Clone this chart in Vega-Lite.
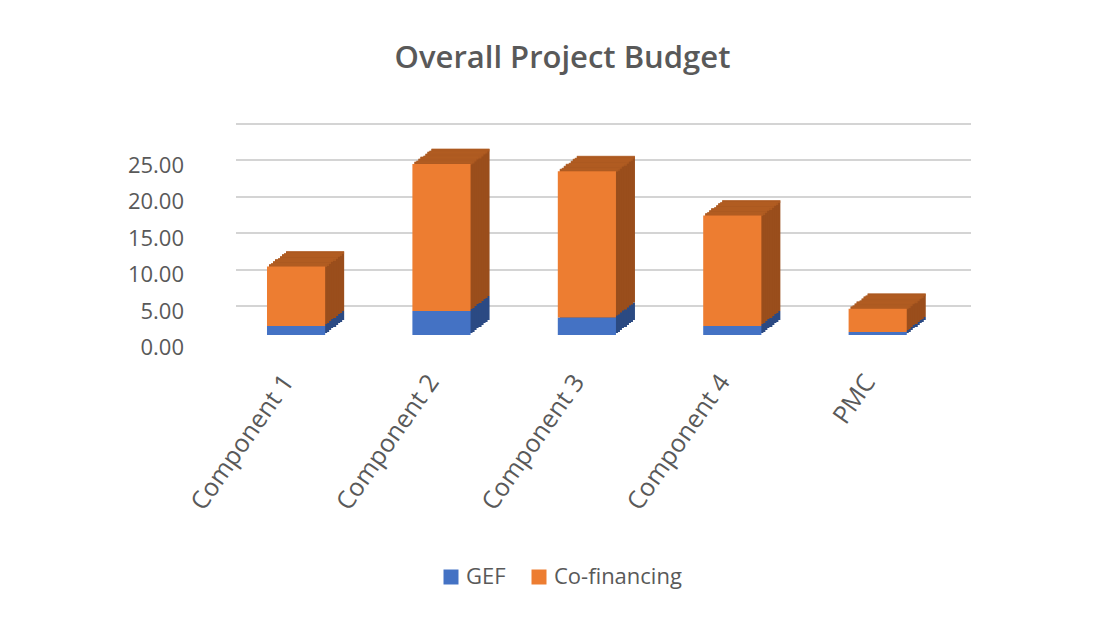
{
  "$schema": "https://vega.github.io/schema/vega-lite/v6.json",
  "width": 735,
  "height": 182,
  "autosize": {"type": "none"},
  "padding": {"left": 265, "top": 153, "right": 115, "bottom": 286},
  "background": "white",
  "title": {
    "text": "Overall Project Budget",
    "font": "Open Sans",
    "fontSize": 31,
    "fontWeight": 600,
    "color": "#595959",
    "anchor": "middle",
    "offset": 73,
    "dx": -70
  },
  "config": {"view": {"stroke": null}},
  "data": {
    "values": [
      {"component": "Component 1", "series": "GEF", "value": 1.25},
      {"component": "Component 1", "series": "Co-financing", "value": 8.15},
      {"component": "Component 2", "series": "GEF", "value": 3.3},
      {"component": "Component 2", "series": "Co-financing", "value": 20.2},
      {"component": "Component 3", "series": "GEF", "value": 2.4},
      {"component": "Component 3", "series": "Co-financing", "value": 20.1},
      {"component": "Component 4", "series": "GEF", "value": 1.25},
      {"component": "Component 4", "series": "Co-financing", "value": 15.15},
      {"component": "PMC", "series": "GEF", "value": 0.4},
      {"component": "PMC", "series": "Co-financing", "value": 3.2}
    ]
  },
  "transform": [
    {"stack": "value", "groupby": ["component"], "sort": [{"field": "series", "order": "descending"}], "as": ["v0", "v1"]}
  ],
  "encoding": {
    "x": {
      "field": "component",
      "type": "nominal",
      "sort": null,
      "scale": {"paddingInner": 0.6, "paddingOuter": 0.3275, "align": 0.021},
      "axis": {
        "title": null,
        "labelAngle": -55,
        "labelFont": "Open Sans",
        "labelFontSize": 25,
        "labelColor": "#595959",
        "domain": false,
        "ticks": false,
        "labelPadding": 42,
        "labelOffset": -8
      }
    },
    "y": {
      "field": "v1",
      "type": "quantitative",
      "scale": {"domain": [0, 25], "nice": false},
      "axis": {
        "title": null,
        "values": [0, 5, 10, 15, 20, 25],
        "format": ".2f",
        "labelFont": "Open Sans",
        "labelFontSize": 22,
        "labelColor": "#595959",
        "labelPadding": 52,
        "labelOffset": 42,
        "translate": -29,
        "domain": false,
        "ticks": false,
        "gridColor": "#d4d4d4",
        "gridWidth": 2
      }
    }
  },
  "layer": [
    {"mark": {"type": "bar", "xOffset": 19, "yOffset": -15, "y2Offset": -15}, "encoding": {"y2": {"field": "v0"}, "color": {"field": "series", "type": "nominal", "scale": {"domain": ["GEF", "Co-financing"], "range": ["#2B4A83", "#9A4E1C"]}, "legend": null}}},
    {"mark": {"type": "bar", "xOffset": 17, "yOffset": -13, "y2Offset": -13}, "encoding": {"y2": {"field": "v0"}, "color": {"field": "series", "type": "nominal", "scale": {"domain": ["GEF", "Co-financing"], "range": ["#2B4A83", "#9A4E1C"]}, "legend": null}}},
    {"mark": {"type": "bar", "xOffset": 15, "yOffset": -12, "y2Offset": -12}, "encoding": {"y2": {"field": "v0"}, "color": {"field": "series", "type": "nominal", "scale": {"domain": ["GEF", "Co-financing"], "range": ["#2B4A83", "#9A4E1C"]}, "legend": null}}},
    {"mark": {"type": "bar", "xOffset": 13, "yOffset": -10, "y2Offset": -10}, "encoding": {"y2": {"field": "v0"}, "color": {"field": "series", "type": "nominal", "scale": {"domain": ["GEF", "Co-financing"], "range": ["#2B4A83", "#9A4E1C"]}, "legend": null}}},
    {"mark": {"type": "bar", "xOffset": 11, "yOffset": -8, "y2Offset": -8}, "encoding": {"y2": {"field": "v0"}, "color": {"field": "series", "type": "nominal", "scale": {"domain": ["GEF", "Co-financing"], "range": ["#2B4A83", "#9A4E1C"]}, "legend": null}}},
    {"mark": {"type": "bar", "xOffset": 8, "yOffset": -7, "y2Offset": -7}, "encoding": {"y2": {"field": "v0"}, "color": {"field": "series", "type": "nominal", "scale": {"domain": ["GEF", "Co-financing"], "range": ["#2B4A83", "#9A4E1C"]}, "legend": null}}},
    {"mark": {"type": "bar", "xOffset": 6, "yOffset": -5, "y2Offset": -5}, "encoding": {"y2": {"field": "v0"}, "color": {"field": "series", "type": "nominal", "scale": {"domain": ["GEF", "Co-financing"], "range": ["#2B4A83", "#9A4E1C"]}, "legend": null}}},
    {"mark": {"type": "bar", "xOffset": 4, "yOffset": -3, "y2Offset": -3}, "encoding": {"y2": {"field": "v0"}, "color": {"field": "series", "type": "nominal", "scale": {"domain": ["GEF", "Co-financing"], "range": ["#2B4A83", "#9A4E1C"]}, "legend": null}}},
    {"mark": {"type": "bar", "xOffset": 2, "yOffset": -2, "y2Offset": -2}, "encoding": {"y2": {"field": "v0"}, "color": {"field": "series", "type": "nominal", "scale": {"domain": ["GEF", "Co-financing"], "range": ["#2B4A83", "#9A4E1C"]}, "legend": null}}},
    {"transform": [{"filter": "datum.series === 'Co-financing'"}], "mark": {"type": "tick", "size": 58, "thickness": 3, "xOffset": 19, "yOffset": -14, "color": "#B45E22"}, "encoding": {}},
    {"transform": [{"filter": "datum.series === 'Co-financing'"}], "mark": {"type": "tick", "size": 58, "thickness": 3, "xOffset": 17, "yOffset": -12, "color": "#B45E22"}, "encoding": {}},
    {"transform": [{"filter": "datum.series === 'Co-financing'"}], "mark": {"type": "tick", "size": 58, "thickness": 3, "xOffset": 15, "yOffset": -11, "color": "#B45E22"}, "encoding": {}},
    {"transform": [{"filter": "datum.series === 'Co-financing'"}], "mark": {"type": "tick", "size": 58, "thickness": 3, "xOffset": 13, "yOffset": -9, "color": "#B45E22"}, "encoding": {}},
    {"transform": [{"filter": "datum.series === 'Co-financing'"}], "mark": {"type": "tick", "size": 58, "thickness": 3, "xOffset": 11, "yOffset": -7, "color": "#B45E22"}, "encoding": {}},
    {"transform": [{"filter": "datum.series === 'Co-financing'"}], "mark": {"type": "tick", "size": 58, "thickness": 3, "xOffset": 8, "yOffset": -6, "color": "#B45E22"}, "encoding": {}},
    {"transform": [{"filter": "datum.series === 'Co-financing'"}], "mark": {"type": "tick", "size": 58, "thickness": 3, "xOffset": 6, "yOffset": -4, "color": "#B45E22"}, "encoding": {}},
    {"transform": [{"filter": "datum.series === 'Co-financing'"}], "mark": {"type": "tick", "size": 58, "thickness": 3, "xOffset": 4, "yOffset": -2, "color": "#B45E22"}, "encoding": {}},
    {"transform": [{"filter": "datum.series === 'Co-financing'"}], "mark": {"type": "tick", "size": 58, "thickness": 3, "xOffset": 2, "yOffset": -1, "color": "#B45E22"}, "encoding": {}},
    {
      "mark": {"type": "bar"},
      "encoding": {
        "y2": {"field": "v0"},
        "color": {
          "field": "series",
          "type": "nominal",
          "scale": {"domain": ["GEF", "Co-financing"], "range": ["#4472C4", "#ED7D31"]},
          "legend": {
            "title": null,
            "orient": "none",
            "legendX": 175,
            "legendY": 413,
            "direction": "horizontal",
            "symbolType": "square",
            "symbolSize": 225,
            "symbolStrokeWidth": 0,
            "labelFont": "Open Sans",
            "labelFontSize": 22,
            "labelColor": "#595959",
            "columnPadding": 22
          }
        }
      }
    }
  ],
  "resolve": {"scale": {"color": "independent"}}
}
